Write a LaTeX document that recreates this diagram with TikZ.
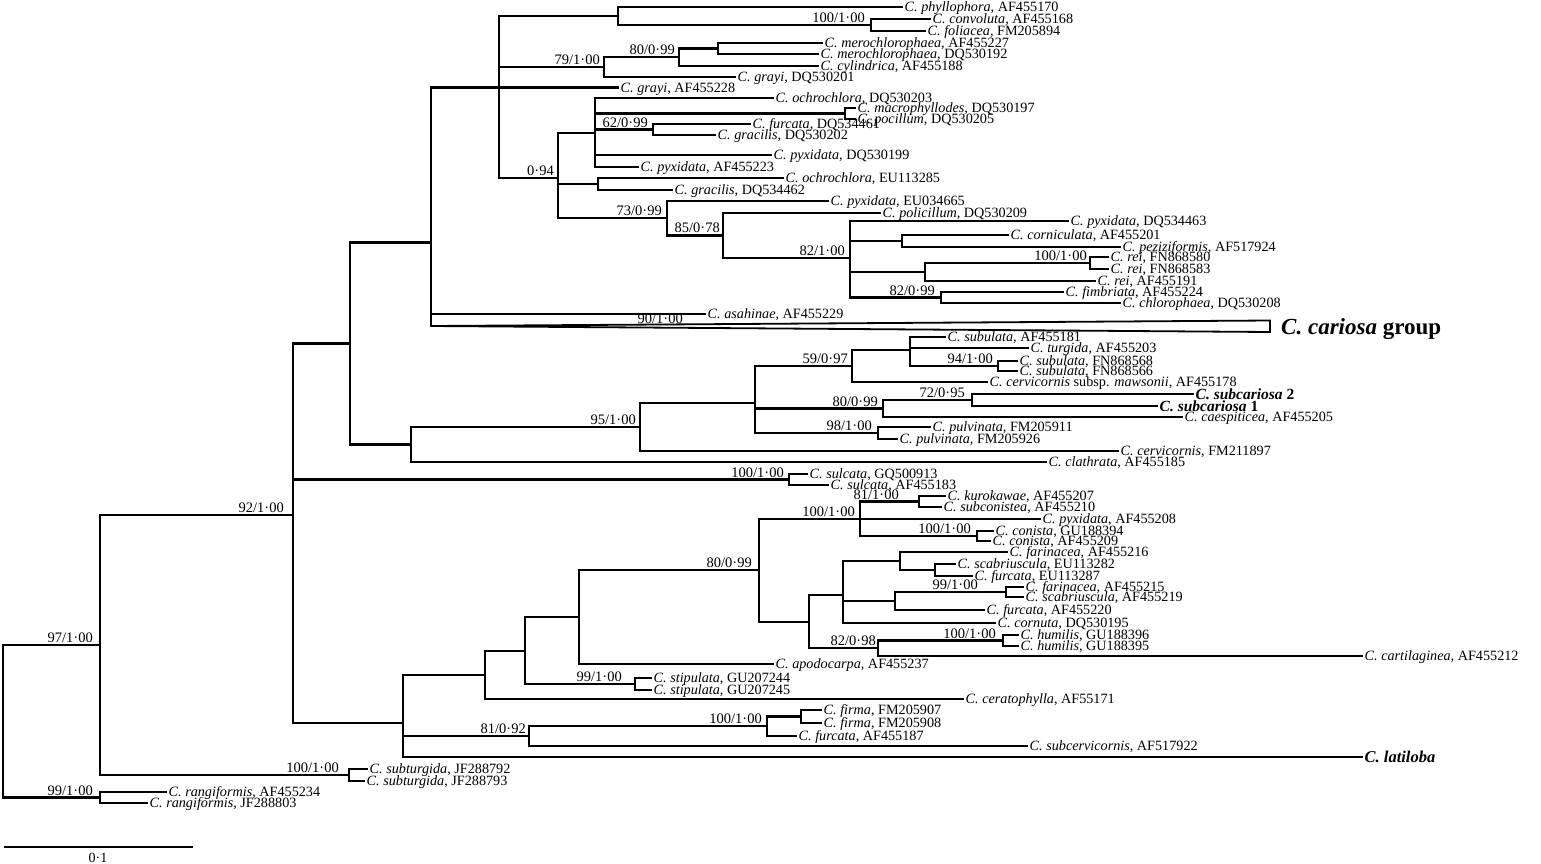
\documentclass[tikz,border=0pt]{standalone}
\usepackage{fontspec}
\setmainfont{Liberation Serif}
\newcommand{\txn}[2]{\textit{C. #1}, #2}
\newcommand{\tleaf}[4]{\coordinate (#1) at (#2,#3); \node[leaflab] (#1t) at (#1) {#4};}
\newcommand{\supv}[4]{\node[suplab] (#1) at (#2,#3) {#4};}
\newcommand{\tedge}[2]{\draw[br] (#1) |- (#2);}
\begin{document}
\begin{tikzpicture}[x=1pt,y=-1pt,
  br/.style={line width=2.2pt,line cap=rect},
  leaflab/.style={anchor=base west,inner sep=0pt,xshift=2.5pt,yshift=-4.5pt,font=\fontsize{14.2}{16}\selectfont},
  boldlab/.style={anchor=base west,inner sep=0pt,xshift=2.5pt,yshift=-5pt,font=\fontsize{15.5}{17}\selectfont\bfseries},
  suplab/.style={anchor=base east,inner sep=0pt,yshift=2.5pt,font=\fontsize{14.5}{16}\selectfont}]
\useasboundingbox (0,0) rectangle (1541,863);
\fill[white] (0,0) rectangle (1541,863);
% internal nodes
\coordinate (R) at (3,721.3);
\coordinate (N97) at (100,645.1);
\coordinate (N99) at (100,797.5);
\coordinate (N92) at (293,515.2);
\coordinate (Nst) at (349,775);
\coordinate (N350) at (350,343.5);
\coordinate (N431) at (431,242.5);
\coordinate (N499) at (499,87.5);
\coordinate (N618) at (618,16);
\coordinate (N871) at (871,25);
\coordinate (N604) at (604,67.1);
\coordinate (N679) at (679,57.25);
\coordinate (N718) at (718,48.5);
\coordinate (N558) at (558,178.3);
\coordinate (N595) at (595,132.6);
\coordinate (N845) at (845,113.5);
\coordinate (N653) at (653,129.5);
\coordinate (N598) at (598,184);
\coordinate (N667) at (667,218.2);
\coordinate (N723) at (723,235.4);
\coordinate (N850) at (850,257.9);
\coordinate (N902) at (902,241);
\coordinate (N925) at (925,272);
\coordinate (N1090) at (1090,263);
\coordinate (N941) at (941,297.5);
\coordinate (Ncar) at (431,326);
\coordinate (Ctop) at (1270,320.5);
\coordinate (Cbot) at (1270,332);
\coordinate (N410) at (411,444.4);
\coordinate (N640) at (640,426.8);
\coordinate (N756) at (755,402.6);
\coordinate (N852) at (852,366.2);
\coordinate (N910) at (910,350.3);
\coordinate (N998) at (998,366);
\coordinate (N883) at (883,408.5);
\coordinate (N972) at (972,400);
\coordinate (N878) at (878,433);
\coordinate (Nsul) at (789,479.5);
\coordinate (N403) at (403,722.6);
\coordinate (N485) at (485,674.8);
\coordinate (N525) at (525,650.6);
\coordinate (N579) at (579,617.1);
\coordinate (N759) at (759,570.2);
\coordinate (N860) at (860,518.8);
\coordinate (N919) at (919,501.5);
\coordinate (N977) at (977,536);
\coordinate (N809) at (809,621.6);
\coordinate (N843) at (843,595);
\coordinate (N900) at (900,561);
\coordinate (N935) at (935,570);
\coordinate (N895) at (895,601);
\coordinate (N1006) at (1006,592);
\coordinate (N878b) at (878,648.25);
\coordinate (N1003) at (1003,640.5);
\coordinate (N635) at (635,684);
\coordinate (N529) at (529,736.1);
\coordinate (N767) at (767,726.25);
\coordinate (N801) at (801,716.5);
% leaves
\tleaf{phy}{902}{7}{\txn{phyllophora}{AF455170}}
\tleaf{con}{930}{19}{\txn{convoluta}{AF455168}}
\tleaf{fol}{925}{31}{\txn{foliacea}{FM205894}}
\tleaf{mer1}{822}{43}{\txn{merochlorophaea}{AF455227}}
\tleaf{mer2}{818}{54}{\txn{merochlorophaea}{DQ530192}}
\tleaf{cyl}{818}{66}{\txn{cylindrica}{AF455188}}
\tleaf{gra1}{735}{77}{\txn{grayi}{DQ530201}}
\tleaf{gra2}{618}{87.5}{\txn{grayi}{AF455228}}
\tleaf{och1}{773}{98}{\txn{ochrochlora}{DQ530203}}
\tleaf{mac}{855}{108}{\txn{macrophyllodes}{DQ530197}}
\tleaf{poc}{855}{119}{\txn{pocillum}{DQ530205}}
\tleaf{fur1}{750}{124}{\txn{furcata}{DQ534461}}
\tleaf{grc1}{715}{135}{\txn{gracilis}{DQ530202}}
\tleaf{pyx1}{771}{155}{\txn{pyxidata}{DQ530199}}
\tleaf{pyx2}{638}{167}{\txn{pyxidata}{AF455223}}
\tleaf{och2}{783}{178}{\txn{ochrochlora}{EU113285}}
\tleaf{grc2}{672}{190}{\txn{gracilis}{DQ534462}}
\tleaf{pyx3}{828}{201}{\txn{pyxidata}{EU034665}}
\tleaf{pol}{880}{213}{\txn{policillum}{DQ530209}}
\tleaf{pyx4}{1068}{221}{\txn{pyxidata}{DQ534463}}
\tleaf{cor}{1008}{235}{\txn{corniculata}{AF455201}}
\tleaf{pez}{1120}{247}{\txn{peziziformis}{AF517924}}
\tleaf{rei1}{1108}{257}{\txn{rei}{FN868580}}
\tleaf{rei2}{1108}{269}{\txn{rei}{FN868583}}
\tleaf{rei3}{1095}{281}{\txn{rei}{AF455191}}
\tleaf{fim}{1063}{292}{\txn{fimbriata}{AF455224}}
\tleaf{chl}{1120}{303}{\txn{chlorophaea}{DQ530208}}
\tleaf{asa}{705}{314}{\txn{asahinae}{AF455229}}
\tleaf{sub1}{945}{337}{\txn{subulata}{AF455181}}
\tleaf{tur}{1028}{348}{\txn{turgida}{AF455203}}
\tleaf{sub2}{1017}{361}{\txn{subulata}{FN868568}}
\tleaf{sub3}{1017}{371}{\txn{subulata}{FN868566}}
\tleaf{maw}{987}{382}{\textit{C. cervicornis} subsp. \textit{mawsonii}, AF455178}
\coordinate (sc2) at (1193,394); \node[boldlab] (sc2t) at (sc2) {\textit{C. subcariosa} 2};
\coordinate (sc1) at (1157,406); \node[boldlab] (sc1t) at (sc1) {\textit{C. subcariosa} 1};
\tleaf{cae}{1182}{417}{\txn{caespiticea}{AF455205}}
\tleaf{pul1}{930}{427}{\txn{pulvinata}{FM205911}}
\tleaf{pul2}{897}{439}{\txn{pulvinata}{FM205926}}
\tleaf{cer1}{1118}{451}{\txn{cervicornis}{FM211897}}
\tleaf{cla}{1046}{462}{\txn{clathrata}{AF455185}}
\tleaf{sul1}{807}{474}{\txn{sulcata}{GQ500913}}
\tleaf{sul2}{828}{485}{\txn{sulcata}{AF455183}}
\tleaf{kur}{945}{496}{\txn{kurokawae}{AF455207}}
\tleaf{sco}{941}{507}{\txn{subconistea}{AF455210}}
\tleaf{pyx5}{1040}{519}{\txn{pyxidata}{AF455208}}
\tleaf{cns1}{993}{531}{\txn{conista}{GU188394}}
\tleaf{cns2}{990}{541}{\txn{conista}{AF455209}}
\tleaf{far1}{1007}{552}{\txn{farinacea}{AF455216}}
\tleaf{sca1}{955}{564}{\txn{scabriuscula}{EU113282}}
\tleaf{fur2}{972}{576}{\txn{furcata}{EU113287}}
\tleaf{far2}{1023}{587}{\txn{farinacea}{AF455215}}
\tleaf{sca2}{1023}{597}{\txn{scabriuscula}{AF455219}}
\tleaf{fur3}{984}{610}{\txn{furcata}{AF455220}}
\tleaf{crn}{995}{623}{\txn{cornuta}{DQ530195}}
\tleaf{hum1}{1018}{635}{\txn{humilis}{GU188396}}
\tleaf{hum2}{1018}{646}{\txn{humilis}{GU188395}}
\tleaf{car}{1362}{656}{\txn{cartilaginea}{AF455212}}
\tleaf{apo}{773}{664}{\txn{apodocarpa}{AF455237}}
\tleaf{sti1}{651}{678}{\txn{stipulata}{GU207244}}
\tleaf{sti2}{651}{690}{\txn{stipulata}{GU207245}}
\tleaf{cpy}{963}{699}{\txn{ceratophylla}{AF55171}}
\tleaf{fir1}{821}{710}{\txn{firma}{FM205907}}
\tleaf{fir2}{821}{723}{\txn{firma}{FM205908}}
\tleaf{fur4}{796}{736}{\txn{furcata}{AF455187}}
\tleaf{scv}{1027}{746}{\txn{subcervicornis}{AF517922}}
\coordinate (lat) at (1362,757); \node[boldlab,font=\fontsize{16.5}{18}\selectfont\bfseries] (latt) at (lat) {\textit{C. latiloba}};
\tleaf{stg1}{367}{769}{\txn{subturgida}{JF288792}}
\tleaf{stg2}{364}{781}{\txn{subturgida}{JF288793}}
\tleaf{ran1}{166}{792}{\txn{rangiformis}{AF455234}}
\tleaf{ran2}{147}{803}{\txn{rangiformis}{JF288803}}
% edges
\tedge{R}{N97}\tedge{R}{N99}
\tedge{N99}{ran1}\tedge{N99}{ran2}
\tedge{N97}{N92}\tedge{N97}{Nst}
\tedge{Nst}{stg1}\tedge{Nst}{stg2}
\tedge{N92}{N350}\tedge{N92}{Nsul}\tedge{N92}{N403}
\tedge{N350}{N431}\tedge{N350}{N410}
\tedge{N431}{N499}\tedge{N431}{asa}\tedge{N431}{Ncar}
\tedge{N499}{N618}\tedge{N499}{N604}\tedge{N499}{gra2}\tedge{N499}{N558}
\tedge{N618}{phy}\tedge{N618}{N871}\tedge{N871}{con}\tedge{N871}{fol}
\tedge{N604}{N679}\tedge{N604}{gra1}\tedge{N679}{N718}\tedge{N679}{cyl}
\tedge{N718}{mer1}\tedge{N718}{mer2}
\tedge{N558}{N595}\tedge{N558}{N598}\tedge{N558}{N667}
\tedge{N595}{och1}\tedge{N595}{N845}\tedge{N595}{N653}\tedge{N595}{pyx1}\tedge{N595}{pyx2}
\tedge{N845}{mac}\tedge{N845}{poc}\tedge{N653}{fur1}\tedge{N653}{grc1}
\tedge{N598}{och2}\tedge{N598}{grc2}
\tedge{N667}{pyx3}\tedge{N667}{N723}\tedge{N723}{pol}\tedge{N723}{N850}
\tedge{N850}{pyx4}\tedge{N850}{N902}\tedge{N850}{N925}\tedge{N850}{N941}
\tedge{N902}{cor}\tedge{N902}{pez}\tedge{N925}{N1090}\tedge{N925}{rei3}
\tedge{N1090}{rei1}\tedge{N1090}{rei2}\tedge{N941}{fim}\tedge{N941}{chl}
\tedge{N410}{N640}\tedge{N410}{cla}\tedge{N640}{N756}\tedge{N640}{cer1}
\tedge{N756}{N852}\tedge{N756}{N883}\tedge{N756}{N878}
\tedge{N852}{N910}\tedge{N852}{maw}
\tedge{N910}{sub1}\tedge{N910}{tur}\tedge{N910}{N998}
\tedge{N998}{sub2}\tedge{N998}{sub3}
\tedge{N883}{N972}\tedge{N883}{cae}\tedge{N972}{sc2}\tedge{N972}{sc1}
\tedge{N878}{pul1}\tedge{N878}{pul2}
\tedge{Nsul}{sul1}\tedge{Nsul}{sul2}
\tedge{N403}{N485}\tedge{N403}{N529}\tedge{N403}{lat}
\tedge{N485}{N525}\tedge{N485}{cpy}\tedge{N525}{N579}\tedge{N525}{N635}
\tedge{N579}{N759}\tedge{N579}{apo}\tedge{N635}{sti1}\tedge{N635}{sti2}
\tedge{N759}{N860}\tedge{N759}{N809}
\tedge{N860}{N919}\tedge{N860}{pyx5}\tedge{N860}{N977}
\tedge{N919}{kur}\tedge{N919}{sco}\tedge{N977}{cns1}\tedge{N977}{cns2}
\tedge{N809}{N843}\tedge{N809}{N878b}
\tedge{N843}{N900}\tedge{N843}{N895}\tedge{N843}{crn}
\tedge{N900}{far1}\tedge{N900}{N935}\tedge{N935}{sca1}\tedge{N935}{fur2}
\tedge{N895}{N1006}\tedge{N895}{fur3}\tedge{N1006}{far2}\tedge{N1006}{sca2}
\tedge{N878b}{N1003}\tedge{N878b}{car}\tedge{N1003}{hum1}\tedge{N1003}{hum2}
\tedge{N529}{N767}\tedge{N529}{scv}\tedge{N767}{N801}\tedge{N767}{fur4}
\tedge{N801}{fir1}\tedge{N801}{fir2}
% collapsed clade
\draw[line width=1.8pt,line join=miter] (Ncar) -- (Ctop) -- (Cbot) -- cycle;
\node[anchor=base west,inner sep=0pt,font=\fontsize{23}{25}\selectfont\bfseries] (cart) at (1281,334) {\textit{C. cariosa} group};
% support values
\supv{s97}{93}{645.1}{97/1·00}
\supv{s92}{284}{515.2}{92/1·00}
\supv{sst}{339}{775}{100/1·00}
\supv{s99}{93}{797.5}{99/1·00}
\supv{s871}{865}{25}{100/1·00}
\supv{s679}{675}{57.25}{80/0·99}
\supv{s604}{600}{67.1}{79/1·00}
\supv{s653}{648}{129.5}{62/0·99}
\supv{s558}{554}{178.3}{0·94}
\supv{s667}{662}{218.2}{73/0·99}
\supv{s723}{720}{235.4}{85/0·78}
\supv{s850}{845}{257.9}{82/1·00}
\supv{s1090}{1087}{263}{100/1·00}
\supv{s941}{935}{297.5}{82/0·99}
\supv{scar}{683}{326}{90/1·00}
\supv{s852}{848}{366.2}{59/0·97}
\supv{s998}{993}{366}{94/1·00}
\supv{s972}{965}{400}{72/0·95}
\supv{s883}{878}{408.5}{80/0·99}
\supv{s878}{872}{433}{98/1·00}
\supv{s640}{636}{426.8}{95/1·00}
\supv{ssul}{784}{479.5}{100/1·00}
\supv{s919}{899}{501.5}{81/1·00}
\supv{s860}{855}{518.8}{100/1·00}
\supv{s977}{971}{536}{100/1·00}
\supv{s759}{752}{570.2}{80/0·99}
\supv{s1006}{978}{592}{99/1·00}
\supv{s878b}{876}{648.25}{82/0·98}
\supv{s1003}{996}{640.5}{100/1·00}
\supv{s635}{622}{684}{99/1·00}
\supv{s529}{526}{736.1}{81/0·92}
\supv{s767}{762}{726.25}{100/1·00}
% scale bar
\coordinate (sbA) at (4,847);
\coordinate (sbB) at (193,847);
\draw[line width=1.3pt] (sbA) -- (sbB);
\node[anchor=base,inner sep=0pt,font=\fontsize{14}{16}\selectfont] (sbl) at (98,862.5) {0·1};
\end{tikzpicture}
\end{document}
